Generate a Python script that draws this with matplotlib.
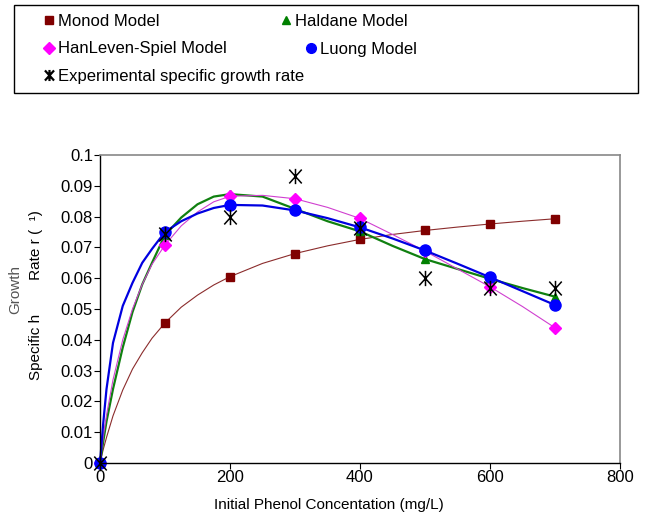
import matplotlib
matplotlib.use('Agg')
import matplotlib.pyplot as plt
from matplotlib.lines import Line2D
from matplotlib.patches import Rectangle
from matplotlib.path import Path

plt.rcParams['font.family'] = ['Liberation Sans', 'DejaVu Sans']

conc = [0, 5, 10, 20, 35, 50, 65, 80, 100, 125, 150, 175, 200, 250, 300, 350,
        400, 450, 500, 550, 600, 650, 700]
monod = [0, 0.0044, 0.0083, 0.0153, 0.0237, 0.0305, 0.0358, 0.0405, 0.0455,
         0.0506, 0.0545, 0.0578, 0.0605, 0.0648, 0.068, 0.0705, 0.0726, 0.0742,
         0.0755, 0.0766, 0.0776, 0.0785, 0.0793]
haldane = [0, 0.007, 0.0135, 0.024, 0.0375, 0.049, 0.058, 0.065, 0.074,
           0.0797, 0.084, 0.0865, 0.0873, 0.0865, 0.0825, 0.0785, 0.0752,
           0.0705, 0.0662, 0.063, 0.0598, 0.0568, 0.054]
hanleven = [0, 0.0085, 0.0155, 0.027, 0.040, 0.050, 0.058, 0.0645, 0.0708,
            0.077, 0.0815, 0.0848, 0.0866, 0.0869, 0.0858, 0.083, 0.0794,
            0.0742, 0.0688, 0.063, 0.0572, 0.0508, 0.0439]
luong = [0, 0.013, 0.024, 0.039, 0.051, 0.0585, 0.065, 0.0695, 0.075, 0.0785,
         0.081, 0.0828, 0.0838, 0.0836, 0.082, 0.0795, 0.0765, 0.0729, 0.069,
         0.0647, 0.0603, 0.0558, 0.0513]

# experimental data
exp_conc = [0, 100, 200, 300, 400, 500, 600, 700]
exp_rate = [0, 0.0743, 0.080, 0.0933, 0.0764, 0.060, 0.0567, 0.0569]

mark_at = [0, 100, 200, 300, 400, 500, 600, 700]
mark_idx = [conc.index(c) for c in mark_at]

ytick_vals = [0, 0.01, 0.02, 0.03, 0.04, 0.05, 0.06, 0.07, 0.08, 0.09, 0.1]
ytick_labels = ['0', '0.01', '0.02', '0.03', '0.04', '0.05', '0.06', '0.07',
                '0.08', '0.09', '0.1']
xtick_vals = [0, 200, 400, 600, 800]

# excel style star: an X with a vertical bar through it
star = Path([(-0.9, -1), (0.9, 1), (-0.9, 1), (0.9, -1), (0, -1.1), (0, 1.1)],
            [Path.MOVETO, Path.LINETO, Path.MOVETO, Path.LINETO,
             Path.MOVETO, Path.LINETO])

fig = plt.figure(figsize=(6.6, 5.19), dpi=100)
ax = fig.add_axes([100/660, 1-463/519, 520/660, 308/519])

ax.plot(conc, monod, color='#8B2C2C', lw=0.8, marker='s', ms=6,
        mfc='#800000', mec='#800000', markevery=mark_idx, clip_on=False)
ax.plot(conc, haldane, color='#108010', lw=1.6, marker='^', ms=6,
        mfc='#008000', mec='#008000', markevery=mark_idx, clip_on=False)
ax.plot(conc, hanleven, color='#D040D0', lw=0.8, marker='D', ms=6.5,
        mfc='#FF00FF', mec='#FF00FF', markevery=mark_idx, clip_on=False)
ax.plot(conc, luong, color='#0000E0', lw=1.6, marker='o', ms=8,
        mfc='#0000FF', mec='#0000FF', markevery=mark_idx, clip_on=False)
ax.plot(exp_conc, exp_rate, ls='none', marker=star, ms=11, mec='black',
        mew=1.1, clip_on=False)

ax.set_xlim(0, 800)
ax.set_ylim(0, 0.1)
ax.set_xticks(xtick_vals)
ax.set_yticks(ytick_vals)
ax.set_yticklabels(ytick_labels)
ax.tick_params(labelsize=12, direction='out', length=4, width=0.8, pad=1)
for side in ['top', 'right']:
    ax.spines[side].set_color('#888888')
    ax.spines[side].set_linewidth(1.2)
for side in ['left', 'bottom']:
    ax.spines[side].set_color('black')
    ax.spines[side].set_linewidth(1.0)

ax.set_xlabel('Initial Phenol Concentation (mg/L)', fontsize=11)
ax.xaxis.set_label_coords(0.44, -0.115)
ax.set_ylabel('Specific h        Rate r (  ¹)', fontsize=11)
ax.yaxis.set_label_coords(-0.11, 0.545)
fig.text(15/660, 1-290/519, 'Growth', rotation=90, fontsize=11,
         color='#555555', ha='center', va='center')

# legend, three pieces so the entries sit where the original has them
def leg_handle(marker, color, size, mew=1.0):
    return Line2D([], [], ls='none', marker=marker, ms=size, mfc=color,
                  mec=color, mew=mew)

leg_opts = dict(loc='upper left', frameon=False, fontsize=12, borderpad=0,
                borderaxespad=0, handlelength=0.8, handletextpad=0.15,
                labelspacing=0.75)
leg1 = fig.legend([leg_handle('s', '#800000', 6),
                   leg_handle('D', '#FF00FF', 6.5),
                   leg_handle(star, 'black', 8, 1.6)],
                  ['Monod Model', 'HanLeven-Spiel Model',
                   'Experimental specific growth rate'],
                  bbox_to_anchor=(42/660, 1-14/519), **leg_opts)
leg2 = fig.legend([leg_handle('^', '#008000', 6)], ['Haldane Model'],
                  bbox_to_anchor=(279/660, 1-14/519), **leg_opts)
leg3 = fig.legend([leg_handle('o', '#0000FF', 7)], ['Luong Model'],
                  bbox_to_anchor=(304/660, 1-42/519), **leg_opts)
fig.patches.append(Rectangle((14/660, 1-93/519), 624/660, 88/519,
                             transform=fig.transFigure, fill=False,
                             edgecolor='black', lw=1.0))

fig.savefig('out.png', dpi=100)
